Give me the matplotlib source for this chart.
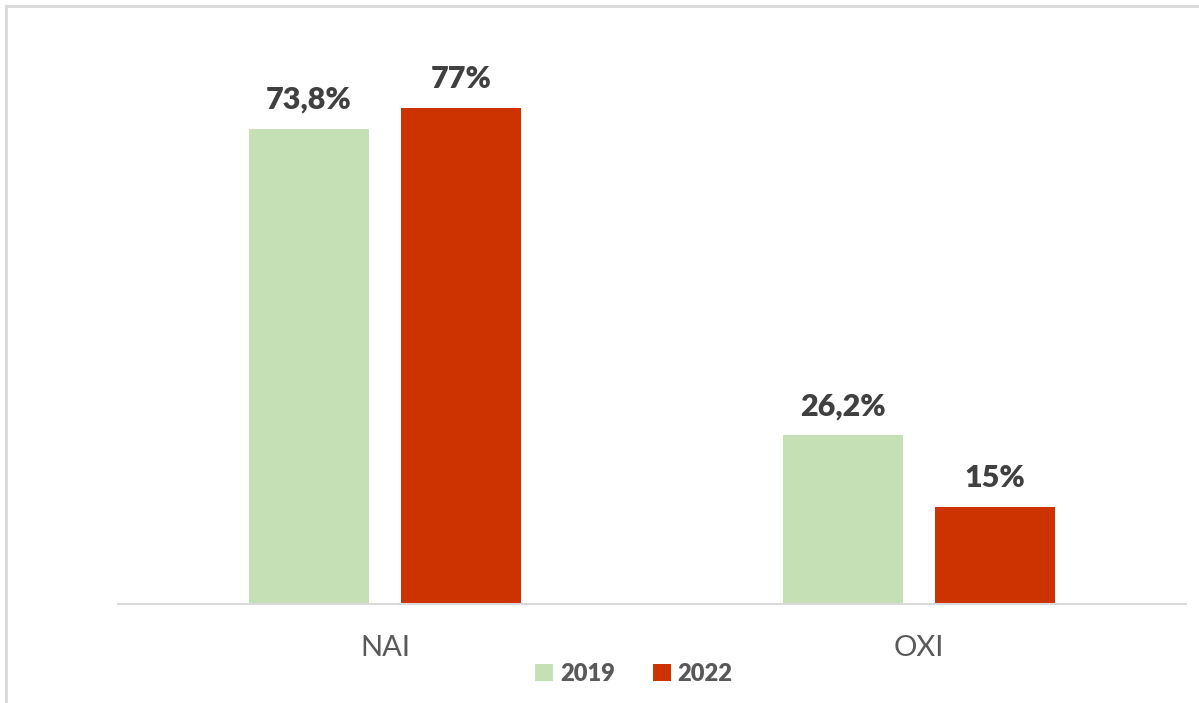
import matplotlib
matplotlib.use("Agg")
import matplotlib.pyplot as plt
from matplotlib.patches import Rectangle
import numpy as np

categories = ["NAI", "OXI"]
series_names = ["2019", "2022"]
values_2019 = [73.8, 26.2]
values_2022 = [77, 15]
labels_2019 = ["73,8%", "26,2%"]
labels_2022 = ["77%", "15%"]

colors = ["#C5E0B4", "#CC3300"]

W, H = 1199, 703
fig = plt.figure(figsize=(W / 100, H / 100), dpi=100)
fig.patch.set_facecolor("white")

# outer border (cut on right and bottom)
fig.add_artist(Rectangle((6 / W, -0.05), 1.1, 1 - 6 / H + 0.05, transform=fig.transFigure,
                         fill=False, edgecolor="#D9D9D9", linewidth=2))

ax = fig.add_axes([118 / W, (H - 604) / H, (1186 - 118) / W, (604 - 31) / H])
x = np.arange(len(categories))
bw = 0.2247
off = 0.1423
b1 = ax.bar(x - off, values_2019, bw, color=colors[0], label=series_names[0], zorder=2)
b2 = ax.bar(x + off, values_2022, bw, color=colors[1], label=series_names[1], zorder=2)

for bars, labs in ((b1, labels_2019), (b2, labels_2022)):
    for r, t in zip(bars, labs):
        ax.annotate(t, (r.get_x() + r.get_width() / 2, r.get_height()),
                    xytext=(0, 11), textcoords="offset points", ha="center", va="bottom",
                    fontsize=22, fontweight="heavy", color="#404040", family="Lato")

ax.set_xlim(-0.5, 1.5)
ax.set_ylim(0, 89)
ax.set_xticks(x)
ax.set_xticklabels(categories, fontsize=21, color="#595959", family="Lato", fontweight="normal")
ax.tick_params(axis="x", length=0, pad=22)
ax.set_yticks([])
for s in ["top", "right", "left"]:
    ax.spines[s].set_visible(False)
ax.spines["bottom"].set_color("#D9D9D9")
ax.spines["bottom"].set_linewidth(1.5)

leg = fig.legend(handles=[b1, b2], labels=series_names, loc="center",
                 bbox_to_anchor=(634 / W, (H - 674) / H), ncol=2, frameon=False,
                 prop={"family": "Lato", "weight": "heavy", "size": 17},
                 handlelength=0.75, handleheight=0.75, handletextpad=0.3, columnspacing=1.6)
for t in leg.get_texts():
    t.set_color("#595959")

fig.savefig("out.png", dpi=100, facecolor="white")
